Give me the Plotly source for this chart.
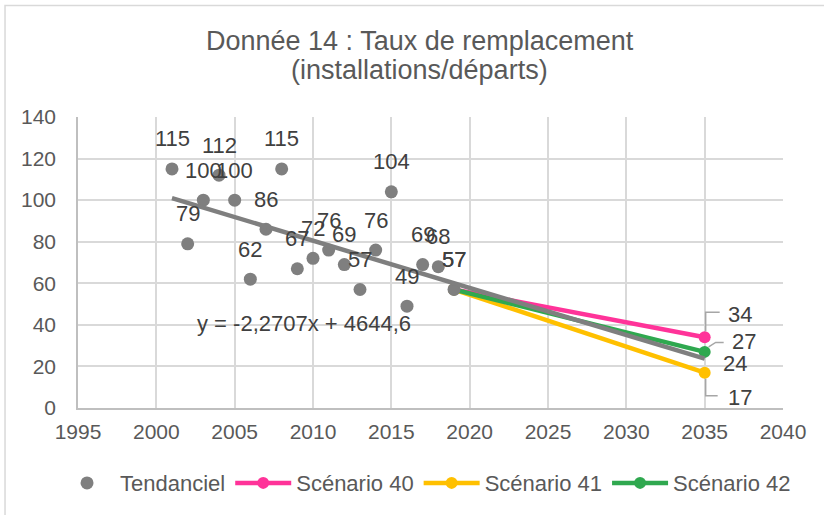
import plotly.graph_objects as go

# Observed replacement rate (installations / departures)
years = [2001, 2002, 2003, 2004, 2005, 2006, 2007, 2008, 2009, 2010,
         2011, 2012, 2013, 2014, 2015, 2016, 2017, 2018, 2019]
tendanciel = [115, 79, 100, 112, 100, 62, 86, 115, 67, 72,
              76, 69, 57, 76, 104, 49, 69, 68, 57]

# Projection scenarios (from last observed year to horizon)
scenario_years = [2019, 2035]
scenario_40 = [57, 34]
scenario_41 = [57, 17]
scenario_42 = [57, 27]

# Linear trend fitted on the observed series
trend_slope = -2.2707
trend_intercept = 4644.6
trend_years = [2001, 2035]
trend_label = "y = -2,2707x + 4644,6"

x_ticks = [1995, 2000, 2005, 2010, 2015, 2020, 2025, 2030, 2035, 2040]
y_ticks = [0, 20, 40, 60, 80, 100, 120, 140]

GRAY = "#7f7f7f"
PINK = "#ff3399"
YELLOW = "#ffc000"
GREEN = "#2fa84f"
TEXT = "#595959"
LABEL = "#404040"
FONT = "Liberation Sans, Arial, sans-serif"

trend_values = [trend_slope * y + trend_intercept for y in trend_years]

fig = go.Figure()

scenarios = [
    ("Scénario 40", scenario_40, PINK, 2),
    ("Scénario 41", scenario_41, YELLOW, 3),
    ("Scénario 42", scenario_42, GREEN, 4),
]
for name, vals, col, rank in scenarios:
    fig.add_trace(go.Scatter(
        x=scenario_years, y=vals, name=name, mode="lines+markers",
        line=dict(color=col, width=4.5),
        marker=dict(color=col, size=12),
        legendrank=rank,
    ))

fig.add_trace(go.Scatter(
    x=years, y=tendanciel, name="Tendanciel", mode="markers",
    marker=dict(color=GRAY, size=13), legendrank=1,
))

fig.add_trace(go.Scatter(
    x=trend_years, y=trend_values, mode="lines", showlegend=False,
    line=dict(color=GRAY, width=4.5), hoverinfo="skip",
))

annotations = []
# value labels above each observed point
for yr, v in zip(years, tendanciel):
    annotations.append(dict(x=yr, y=v, text=str(v), showarrow=False,
                            yshift=30, font=dict(size=22, color=LABEL)))
# start value of the scenarios (shares the last observed point)
annotations.append(dict(x=scenario_years[0], y=scenario_42[0], text=str(scenario_42[0]),
                        showarrow=False, yshift=30, font=dict(size=22, color=LABEL)))

# end-of-horizon labels with pixel offsets and leader paths
end_labels = [
    (scenario_40[-1], 35, 23, "M1,6 L1,25 L15,25"),
    (scenario_42[-1], 39, 10, "M4,5 L11,9.5 L19,9.5"),
    (round(trend_values[-1]), 30, -5, None),
    (scenario_41[-1], 35, -25, "M1,-6 L1,-23 L13,-23"),
]
shapes = []
for val, dx, dy, path in end_labels:
    annotations.append(dict(x=scenario_years[-1], y=val, text=str(val), showarrow=False,
                            xshift=dx, yshift=dy, font=dict(size=22, color=LABEL)))
    if path:
        shapes.append(dict(type="path", xref="x", yref="y",
                           xsizemode="pixel", ysizemode="pixel",
                           xanchor=scenario_years[-1], yanchor=val, path=path,
                           line=dict(color="#a6a6a6", width=1.5)))

# trend equation
annotations.append(dict(x=2009.4, y=40.6, text=trend_label, showarrow=False,
                        font=dict(size=22, color=LABEL)))

# two-line title
annotations.append(dict(xref="paper", yref="paper", x=0.485, y=1.261,
                        xanchor="center", yanchor="middle",
                        text="Donnée 14 : Taux de remplacement", showarrow=False,
                        font=dict(size=27, color=TEXT)))
annotations.append(dict(xref="paper", yref="paper", x=0.485, y=1.162,
                        xanchor="center", yanchor="middle",
                        text="(installations/départs)", showarrow=False,
                        font=dict(size=27, color=TEXT)))

# chart frame
shapes.append(dict(type="rect", xref="paper", yref="paper",
                   x0=-0.1035, x1=1.08, y0=-0.42, y1=1.383,
                   line=dict(color="#d9d9d9", width=1.5)))

fig.update_layout(
    width=824, height=515,
    margin=dict(l=78, r=41, t=117, b=107, autoexpand=False),
    paper_bgcolor="white", plot_bgcolor="white",
    font=dict(family=FONT, color=TEXT),
    annotations=annotations,
    shapes=shapes,
    legend=dict(orientation="h", x=-0.034, xanchor="left", y=-0.258, yanchor="middle",
                font=dict(size=22, color=TEXT), itemwidth=56,
                traceorder="normal"),
    showlegend=True,
)

fig.update_xaxes(range=[1995, 2040], tickvals=x_ticks, showgrid=True,
                 gridcolor="#d9d9d9", gridwidth=1.5, showline=True,
                 linecolor="#bfbfbf", linewidth=1.5, zeroline=False,
                 ticks="", tickfont=dict(size=21, color=TEXT), ticklabelstandoff=4)
fig.update_yaxes(range=[0, 140], tickvals=y_ticks, showgrid=True,
                 gridcolor="#d9d9d9", gridwidth=1.5, showline=True,
                 linecolor="#bfbfbf", linewidth=1.5, zeroline=False,
                 ticks="", tickfont=dict(size=21, color=TEXT), ticklabelstandoff=16)

fig.write_html("out.html")
